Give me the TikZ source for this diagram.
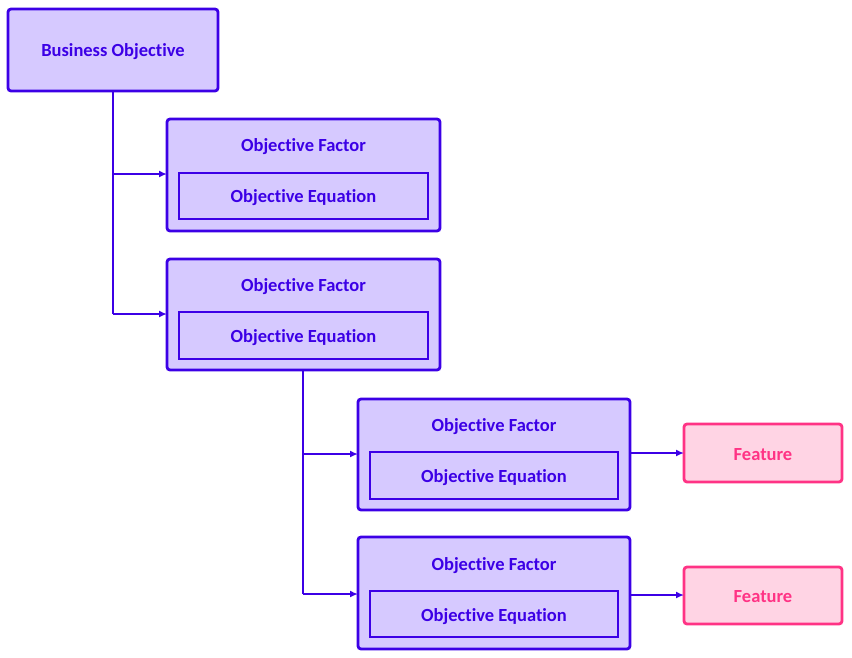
\documentclass[tikz,border=0pt]{standalone}
\usepackage{fontspec}
\setmainfont[Ligatures=NoCommon]{Carlito}
\usetikzlibrary{arrows.meta}
\definecolor{pborder}{RGB}{60,0,230}
\definecolor{pfill}{RGB}{214,201,255}
\definecolor{kborder}{RGB}{255,51,133}
\definecolor{kfill}{RGB}{255,212,228}
\begin{document}
\begin{tikzpicture}[x=1pt,y=-1pt,
  box/.style={draw=pborder,fill=pfill,line width=2.8pt,rounded corners=3pt,inner sep=0pt},
  inbox/.style={draw=pborder,fill=pfill,line width=2.8pt,inner sep=0pt},
  feat/.style={draw=kborder,fill=kfill,line width=2.8pt,rounded corners=3pt,inner sep=0pt},
  lbl/.style={font=\bfseries\fontsize{18.5}{22}\selectfont,text=pborder},
  flbl/.style={font=\bfseries\fontsize{18.5}{22}\selectfont,text=kborder},
  conn/.style={draw=pborder,line width=1.8pt},
  arr/.style={conn,-{Latex[length=8pt,width=7pt]}}]
\useasboundingbox (0,0) rectangle (852,657);
% Business objective
\path[box] (8,9) rectangle (218,91);
\node[lbl] (bo) at (113,52) {Business Objective};
\coordinate (bob) at (113,91);
% factor boxes
\path[box] (167,119) rectangle (440,231);
\path[inbox] (179,173) rectangle (428,219);
\node[lbl] (f1t) at (303.5,147) {Objective Factor};
\node[lbl] (f1e) at (303.5,198) {Objective Equation};
\coordinate (f1w) at (167,174);

\path[box] (167,259) rectangle (440,370);
\path[inbox] (179,312) rectangle (428,359);
\node[lbl] (f2t) at (303.5,287) {Objective Factor};
\node[lbl] (f2e) at (303.5,338) {Objective Equation};
\coordinate (f2w) at (167,314);
\coordinate (f2b) at (303,370);

\path[box] (358,399) rectangle (630,510);
\path[inbox] (370,452) rectangle (618,499);
\node[lbl] (f3t) at (494,427) {Objective Factor};
\node[lbl] (f3e) at (494,478) {Objective Equation};
\coordinate (f3w) at (358,454);
\coordinate (f3e2) at (630,453);

\path[box] (358,537) rectangle (630,649);
\path[inbox] (370,591) rectangle (618,637);
\node[lbl] (f4t) at (494,566) {Objective Factor};
\node[lbl] (f4e) at (494,617) {Objective Equation};
\coordinate (f4w) at (358,594);
\coordinate (f4e2) at (630,595);

% Features
\path[feat] (684,424) rectangle (842,482);
\node[flbl] (ft1) at (763,454.5) {Feature};
\coordinate (ft1w) at (684,453);
\path[feat] (684,567) rectangle (842,624);
\node[flbl] (ft2) at (763,597) {Feature};
\coordinate (ft2w) at (684,595);

% connectors
\draw[conn] (bob) -- (113,314);
\draw[arr] (113,174) -- (f1w);
\draw[arr] (113,314) -- (f2w);
\draw[conn] (f2b) -- (303,594);
\draw[arr] (303,454) -- (f3w);
\draw[arr] (303,594) -- (f4w);
\draw[arr] (f3e2) -- (ft1w);
\draw[arr] (f4e2) -- (ft2w);
\end{tikzpicture}
\end{document}
